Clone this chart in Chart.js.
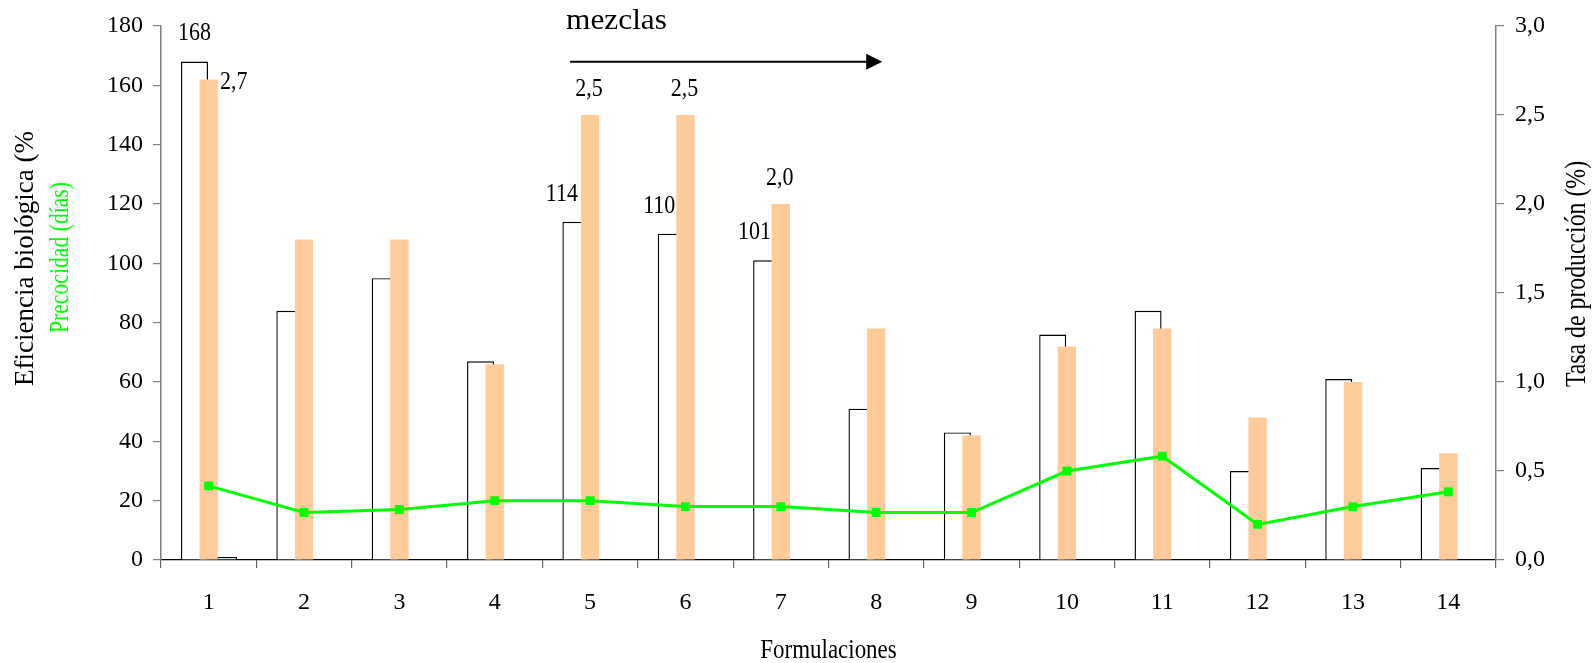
<!DOCTYPE html>
<html lang="es">
<head>
<meta charset="utf-8">
<title>Formulaciones</title>
<script src="https://cdn.jsdelivr.net/npm/chart.js@4.4.1/dist/chart.umd.min.js"></script>
<style>
  html, body { margin: 0; padding: 0; background: #ffffff; }
  #wrap { width: 1593px; height: 663px; position: relative; }
</style>
</head>
<body>
<div id="wrap"><canvas id="grafico" width="1593" height="663"></canvas></div>
<script>
// Formulaciones evaluadas
const formulaciones = ['1','2','3','4','5','6','7','8','9','10','11','12','13','14'];
// Eficiencia biológica (%) - eje izquierdo
const eficienciaBiologica = [168, 84, 95, 67, 114, 110, 101, 51, 43, 76, 84, 30, 61, 31];
// Tasa de producción (%) - eje derecho
const tasaProduccion = [2.7, 1.8, 1.8, 1.1, 2.5, 2.5, 2.0, 1.3, 0.7, 1.2, 1.3, 0.8, 1.0, 0.6];
// Serie complementaria (sólo la formulación 1)
const serieAdicional = [1, null, null, null, null, null, null, null, null, null, null, null, null, null];
// Precocidad (días) - eje izquierdo
const precocidad = [25, 16, 17, 20, 20, 18, 18, 16, 16, 30, 35, 12, 18, 23];

// Escalas
const ejeIzquierdo = { min: 0, max: 180, paso: 20 };
const ejeDerecho = { min: 0, max: 3, paso: 0.5 };

// Barras con su valor rotulado
const rotulosEficiencia = [0, 4, 5, 6];
const rotulosTasa = [0, 4, 5, 6];

const FUENTE = "'Liberation Serif', 'Times New Roman', serif";
const conComa = v => v.toFixed(1).replace('.', ',');

const IDX_EFICIENCIA = 1;
const IDX_TASA = 2;

Chart.defaults.font.family = FUENTE;
Chart.defaults.color = '#000000';

// Desplazamientos (px) de los rótulos respecto del borde superior de cada barra
const desplazamientoRotulo = {
  eficiencia: { base: [0, -27], porIndice: { 0: [0, -28], 4: [-14, -27], 5: [-12, -27], 6: [-12, -28] } },
  tasa: { base: [-1, -26], porIndice: { 0: [25, 3] } }
};

// Texto de letra estrecha: fuente de tamaño `px`, comprimida a lo largo de la línea
function texto(ctx, cadena, x, y, px, compresion, giro, alineacion, color, base) {
  ctx.save();
  ctx.translate(x, y);
  if (giro) ctx.rotate(giro);
  ctx.scale(compresion, 1);
  ctx.font = px + 'px ' + FUENTE;
  ctx.fillStyle = color;
  ctx.textAlign = alineacion;
  ctx.textBaseline = base || 'alphabetic';
  ctx.fillText(cadena, 0, 0);
  ctx.restore();
}

const decoraciones = {
  id: 'decoraciones',
  // La tasa se pinta encima de la eficiencia
  beforeDatasetDraw(chart, args) {
    if (args.index === IDX_TASA) return false;
  },
  afterDatasetDraw(chart, args) {
    if (args.index === IDX_EFICIENCIA) {
      chart.getDatasetMeta(IDX_TASA).controller.draw();
    }
  },
  afterDatasetsDraw(chart) {
    const ctx = chart.ctx;
    const metaEf = chart.getDatasetMeta(IDX_EFICIENCIA);
    rotulosEficiencia.forEach(i => {
      const el = metaEf.data[i];
      const d = desplazamientoRotulo.eficiencia.porIndice[i] || desplazamientoRotulo.eficiencia.base;
      texto(ctx, String(eficienciaBiologica[i]), el.x + d[0], el.y + d[1], 25, 0.88, 0, 'center', '#000000', 'middle');
    });
    const metaTa = chart.getDatasetMeta(IDX_TASA);
    rotulosTasa.forEach(i => {
      const el = metaTa.data[i];
      const d = desplazamientoRotulo.tasa.porIndice[i] || desplazamientoRotulo.tasa.base;
      texto(ctx, conComa(tasaProduccion[i]), el.x + d[0], el.y + d[1], 25, 0.88, 0, 'center', '#000000', 'middle');
    });
  },
  afterDraw(chart) {
    const ctx = chart.ctx;
    const area = chart.chartArea;
    const x = chart.scales.x;

    // Título del eje izquierdo (dos líneas, dos colores); la primera queda recortada arriba
    ctx.save();
    ctx.beginPath();
    ctx.rect(0, 130, 120, chart.height - 130);
    ctx.clip();
    texto(ctx, 'Eficiencia biológica (%)', 33, 386, 27, 1, -Math.PI / 2, 'left', '#000000');
    ctx.restore();
    texto(ctx, 'Precocidad (días)', 68, 257.5, 28, 0.774, -Math.PI / 2, 'center', '#00FF00');

    // Título del eje derecho
    texto(ctx, 'Tasa de producción (%)', 1585, 274, 29, 0.82, -Math.PI / 2, 'center', '#000000');

    // Título del eje horizontal
    texto(ctx, 'Formulaciones', (area.left + area.right) / 2, 658, 27, 0.85, 0, 'center', '#000000');

    // Flecha "mezclas"
    const x0 = x.getPixelForValue(4) - 20;
    const x1 = x.getPixelForValue(7) + 6;
    const yf = area.top + 35.7;
    ctx.save();
    ctx.strokeStyle = '#000000';
    ctx.fillStyle = '#000000';
    ctx.lineWidth = 2;
    ctx.beginPath();
    ctx.moveTo(x0, yf);
    ctx.lineTo(x1 - 14, yf);
    ctx.stroke();
    ctx.beginPath();
    ctx.moveTo(x1, yf);
    ctx.lineTo(x1 - 16, yf - 8);
    ctx.lineTo(x1 - 16, yf + 8);
    ctx.closePath();
    ctx.fill();
    ctx.restore();
    texto(ctx, 'mezclas', x0 - 4, 29.3, 29, 1.08, 0, 'left', '#000000');
  }
};

new Chart(document.getElementById('grafico'), {
  data: {
    labels: formulaciones,
    datasets: [
      {
        type: 'line',
        label: 'Precocidad (días)',
        data: precocidad,
        yAxisID: 'y',
        borderColor: '#00FF00',
        backgroundColor: '#00FF00',
        borderWidth: 3,
        pointStyle: 'rect',
        pointRadius: 6.3,
        pointBorderWidth: 0,
        tension: 0
      },
      {
        type: 'bar',
        label: 'Eficiencia biológica (%)',
        data: eficienciaBiologica,
        yAxisID: 'y',
        backgroundColor: '#FFFFFF',
        borderColor: '#000000',
        borderWidth: 1.4,
        categoryPercentage: 0.4467,
        barPercentage: 1.901
      },
      {
        type: 'bar',
        label: 'Tasa de producción (%)',
        data: tasaProduccion,
        yAxisID: 'y2',
        backgroundColor: '#FFCC99',
        borderWidth: 0,
        categoryPercentage: 0.6,
        barPercentage: 0.96
      },
      {
        type: 'bar',
        label: 'Serie complementaria',
        data: serieAdicional,
        yAxisID: 'y',
        backgroundColor: '#CCFFFF',
        borderColor: '#000000',
        borderWidth: 1.2,
        categoryPercentage: 0.5757,
        barPercentage: 1.093
      }
    ]
  },
  options: {
    responsive: false,
    animation: false,
    devicePixelRatio: 1,
    layout: { padding: { top: 26, left: 0, right: 0, bottom: 0 } },
    plugins: {
      legend: { display: false },
      tooltip: { enabled: false }
    },
    scales: {
      x: {
        type: 'category',
        offset: true,
        grid: {
          offset: true,
          drawOnChartArea: false,
          drawTicks: true,
          tickLength: 8,
          color: '#666666',
          lineWidth: 1.2
        },
        border: { display: true, color: '#000000', width: 1.2 },
        ticks: { font: { size: 24 }, color: '#000000', padding: 20, maxRotation: 0, autoSkip: false },
        afterFit(scale) { scale.height = 103; }
      },
      y: {
        position: 'left',
        min: ejeIzquierdo.min,
        max: ejeIzquierdo.max,
        grid: { drawOnChartArea: false, drawTicks: true, tickLength: 8, color: '#808080', lineWidth: 1.2 },
        border: { display: true, color: '#808080', width: 1.5 },
        ticks: { stepSize: ejeIzquierdo.paso, font: { size: 24 }, color: '#000000', padding: 10 },
        afterFit(scale) { scale.width = 161; }
      },
      y2: {
        position: 'right',
        min: ejeDerecho.min,
        max: ejeDerecho.max,
        grid: { drawOnChartArea: false, drawTicks: true, tickLength: 8, color: '#808080', lineWidth: 1.2 },
        border: { display: true, color: '#808080', width: 1.5 },
        ticks: {
          stepSize: ejeDerecho.paso,
          font: { size: 24 },
          color: '#000000',
          padding: 11,
          callback: v => conComa(v)
        },
        afterFit(scale) { scale.width = 97; }
      }
    }
  },
  plugins: [decoraciones]
});
</script>
</body>
</html>
